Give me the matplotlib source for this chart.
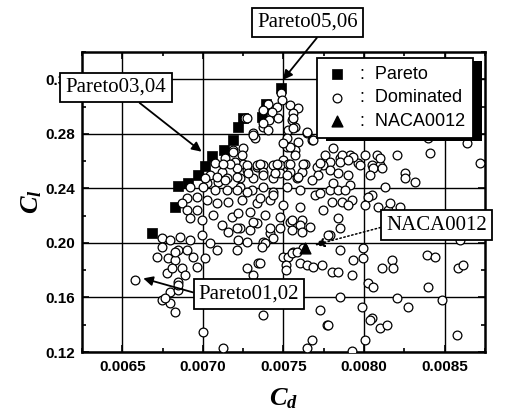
import numpy as np
import matplotlib
matplotlib.use("Agg")
import matplotlib.pyplot as plt
from matplotlib.patches import Rectangle
from matplotlib.transforms import IdentityTransform
from matplotlib.ticker import MultipleLocator

plt.rcParams['mathtext.fontset'] = 'custom'
plt.rcParams['mathtext.it'] = 'Liberation Serif:italic:bold'
plt.rcParams['mathtext.rm'] = 'Liberation Serif:bold'

# ---------------- data ----------------
pareto_cd = [0.006684, 0.006827, 0.006845, 0.006907, 0.006969, 0.007013, 0.007056,
             0.007130, 0.007186, 0.007217, 0.007248, 0.007366, 0.007391, 0.007484]
pareto_cl = [0.2073, 0.2263, 0.2421, 0.2436, 0.2498, 0.2564, 0.2641,
             0.2681, 0.2755, 0.2850, 0.2916, 0.2923, 0.3019, 0.3136]

naca_cd = [0.007633]
naca_cl = [0.1963]

dominated_points = [
    (0.006579, 0.1728), (0.006777, 0.1780),
    (0.007484, 0.3100), (0.007490, 0.3048), (0.007403, 0.3019), (0.007459, 0.2996),
    (0.007428, 0.2960), (0.007540, 0.3011), (0.007589, 0.2989), (0.007558, 0.2953),
    (0.007465, 0.2916), (0.007409, 0.2901), (0.007261, 0.2916), (0.007372, 0.2850),
    (0.007403, 0.2828), (0.007552, 0.2901), (0.007571, 0.2850), (0.007527, 0.2828),
    (0.007310, 0.2806), (0.007323, 0.2769), (0.007521, 0.2769), (0.007589, 0.2740),
    (0.007645, 0.2806), (0.007676, 0.2755), (0.007248, 0.2696), (0.007186, 0.2681),
    (0.007521, 0.2703), (0.007571, 0.2681), (0.007571, 0.2645), (0.007496, 0.2608),
    (0.007757, 0.2645), (0.007788, 0.2593), (0.007744, 0.2571), (0.007633, 0.2579),
    (0.007248, 0.2579), (0.007199, 0.2593), (0.007211, 0.2549), (0.007273, 0.2535),
    (0.007335, 0.2557), (0.007372, 0.2571), (0.007372, 0.2520), (0.007434, 0.2571),
    (0.007478, 0.2571), (0.007527, 0.2579), (0.007540, 0.2520), (0.007478, 0.2513),
    (0.007614, 0.2520), (0.007707, 0.2557), (0.007713, 0.2498), (0.007788, 0.2535),
    (0.007434, 0.2476), (0.007310, 0.2476), (0.007230, 0.2476), (0.007583, 0.2476),
    (0.007676, 0.2461), (0.007075, 0.2586), (0.007137, 0.2623), (0.007118, 0.2520),
    (0.007044, 0.2498), (0.007149, 0.2476), (0.007025, 0.2439), (0.007093, 0.2447),
    (0.007372, 0.2975), (0.007372, 0.2879), (0.007273, 0.2916), (0.007310, 0.2791),
    (0.007186, 0.2667), (0.007242, 0.2645), (0.007168, 0.2579), (0.007335, 0.2571),
    (0.007459, 0.2579), (0.007558, 0.2916), (0.007558, 0.2843), (0.007645, 0.2813),
    (0.007540, 0.2703), (0.007620, 0.2579), (0.007496, 0.2733), (0.007124, 0.2579),
    (0.007273, 0.2571), (0.007354, 0.2579), (0.007540, 0.2579), (0.007013, 0.2476),
    (0.007087, 0.2483), (0.007137, 0.2461), (0.007211, 0.2483), (0.007279, 0.2513),
    (0.007372, 0.2498), (0.007447, 0.2513), (0.007521, 0.2498), (0.007589, 0.2483),
    (0.006920, 0.2410), (0.007000, 0.2410), (0.007075, 0.2388), (0.007149, 0.2388),
    (0.007230, 0.2410), (0.007304, 0.2388), (0.007372, 0.2410), (0.007434, 0.2373),
    (0.007521, 0.2410), (0.007602, 0.2388), (0.006901, 0.2329), (0.006963, 0.2337),
    (0.007025, 0.2315), (0.007087, 0.2293), (0.007155, 0.2300), (0.007242, 0.2315),
    (0.007335, 0.2293), (0.007416, 0.2315), (0.007496, 0.2278), (0.007602, 0.2263),
    (0.006870, 0.2293), (0.006901, 0.2241), (0.006963, 0.2241), (0.006920, 0.2183),
    (0.006994, 0.2168), (0.007062, 0.2205), (0.007118, 0.2131), (0.007180, 0.2190),
    (0.007155, 0.2080), (0.007230, 0.2109), (0.007292, 0.2095), (0.007335, 0.2146),
    (0.007416, 0.2073), (0.007372, 0.2007), (0.007211, 0.1948), (0.007341, 0.1853),
    (0.007273, 0.1816), (0.007540, 0.2153), (0.007614, 0.2168), (0.007496, 0.1897),
    (0.007558, 0.1933), (0.007620, 0.1963), (0.006746, 0.2036), (0.006796, 0.2021),
    (0.006858, 0.2043), (0.006920, 0.2021), (0.006994, 0.2058), (0.007044, 0.1999),
    (0.007087, 0.1948), (0.006715, 0.1897), (0.006783, 0.1889), (0.006845, 0.1948),
    (0.006827, 0.1875), (0.006901, 0.1948), (0.006938, 0.1897), (0.007013, 0.1889),
    (0.006963, 0.1823), (0.006870, 0.1816), (0.006808, 0.1816), (0.006889, 0.1765),
    (0.006845, 0.1713), (0.006746, 0.1581), (0.006796, 0.1559), (0.006827, 0.1493),
    (0.006796, 0.1640), (0.006845, 0.1655), (0.007000, 0.1347), (0.007372, 0.1471),
    (0.006746, 0.1970), (0.006827, 0.1933), (0.006765, 0.1596), (0.006845, 0.1691),
    (0.007124, 0.1229), (0.007211, 0.2388), (0.007273, 0.2373), (0.007354, 0.2329),
    (0.007434, 0.2351), (0.007695, 0.2351), (0.007788, 0.2388), (0.007744, 0.2241),
    (0.007800, 0.2300), (0.007217, 0.2219), (0.007292, 0.2227), (0.007385, 0.2205),
    (0.007478, 0.2190), (0.007552, 0.2168), (0.007602, 0.2131), (0.007664, 0.2117),
    (0.007552, 0.2095), (0.007614, 0.2080), (0.007211, 0.2109), (0.007310, 0.2153),
    (0.007416, 0.2109), (0.007478, 0.2109), (0.007217, 0.2021), (0.007273, 0.2007),
    (0.007385, 0.1999), (0.007434, 0.2036), (0.007366, 0.1970), (0.007527, 0.1897),
    (0.007552, 0.1926), (0.007583, 0.1933), (0.007515, 0.1838), (0.007602, 0.1853),
    (0.007645, 0.1838), (0.007683, 0.1823), (0.007738, 0.1838), (0.007354, 0.1853),
    (0.007310, 0.1765), (0.007515, 0.1801), (0.007800, 0.1787), (0.007788, 0.2058),
    (0.007726, 0.1508), (0.007769, 0.1398), (0.007676, 0.1288), (0.007645, 0.1229),
    (0.007682, 0.2755), (0.007806, 0.2696), (0.007912, 0.2645), (0.008079, 0.2645),
    (0.008203, 0.2645), (0.008408, 0.2659), (0.008637, 0.2733), (0.008395, 0.2769),
    (0.008718, 0.2586), (0.007850, 0.2623), (0.007726, 0.2586), (0.007961, 0.2586),
    (0.008048, 0.2571), (0.008098, 0.2571), (0.008005, 0.2645), (0.008098, 0.2623),
    (0.007862, 0.2645), (0.007930, 0.2630), (0.007850, 0.2593), (0.007899, 0.2608),
    (0.007974, 0.2571), (0.008054, 0.2549), (0.008110, 0.2549), (0.008036, 0.2498),
    (0.008253, 0.2513), (0.008253, 0.2476), (0.008315, 0.2447), (0.007899, 0.2498),
    (0.007837, 0.2513), (0.007912, 0.2425), (0.007837, 0.2388), (0.007881, 0.2388),
    (0.008129, 0.2410), (0.008048, 0.2351), (0.008023, 0.2337), (0.007862, 0.2300),
    (0.007924, 0.2315), (0.007899, 0.2278), (0.008005, 0.2278), (0.008085, 0.2263),
    (0.008147, 0.2241), (0.008160, 0.2293), (0.008222, 0.2263), (0.007992, 0.1963),
    (0.007992, 0.1889), (0.007930, 0.1875), (0.007850, 0.1948), (0.007837, 0.1787),
    (0.007924, 0.1765), (0.008110, 0.1816), (0.008172, 0.1875), (0.008178, 0.1816),
    (0.008389, 0.1911), (0.008439, 0.1897), (0.008581, 0.1816), (0.008612, 0.1838),
    (0.008594, 0.2021), (0.008023, 0.1706), (0.008054, 0.1677), (0.008395, 0.1677),
    (0.007850, 0.1603), (0.007986, 0.1530), (0.008203, 0.1596), (0.008271, 0.1530),
    (0.008482, 0.1581), (0.008048, 0.1449), (0.008098, 0.1376), (0.008141, 0.1398),
    (0.007775, 0.1398), (0.008575, 0.1325), (0.008005, 0.1288), (0.007924, 0.1210),
    (0.008036, 0.1435), (0.007837, 0.2183), (0.007850, 0.2109), (0.007806, 0.2439),
    (0.007726, 0.2366), (0.007775, 0.2058),
]
dom_cd = [p[0] for p in dominated_points]
dom_cl = [p[1] for p in dominated_points]

# annotation targets (data coordinates)
ann_labels = ["Pareto05,06", "Pareto03,04", "Pareto01,02", "NACA0012"]
ann_tip_cd = [0.007496, 0.006992, 0.006630, 0.007695]
ann_tip_cl = [0.3195, 0.2669, 0.1740, 0.1985]

x_ticks = [0.0065, 0.0070, 0.0075, 0.0080, 0.0085]
y_ticks = [0.12, 0.16, 0.20, 0.24, 0.28, 0.32]

# ---------------- figure ----------------
W, H = 512, 416
fig = plt.figure(figsize=(W / 100, H / 100), dpi=100)
ax = fig.add_axes([82 / W, (H - 352) / H, 403 / W, 300 / H])

ax.set_xlim(0.00625, 0.00875)
ax.set_ylim(0.12, 0.34)
ax.set_xticks(x_ticks)
ax.set_yticks(y_ticks)
ax.set_xticklabels([f"{v:.4f}" for v in x_ticks])
ax.set_yticklabels([f"{v:.2f}" for v in y_ticks])
ax.xaxis.set_minor_locator(MultipleLocator(0.00025))
ax.yaxis.set_minor_locator(MultipleLocator(0.02))
ax.grid(True, which='major', color='black', lw=1.0)
ax.set_axisbelow(True)
ax.tick_params(which='both', direction='in', top=True, right=True, color='black')
ax.tick_params(which='major', length=5, width=1.2)
ax.tick_params(which='minor', length=3, width=1.2)
for lab in ax.get_xticklabels() + ax.get_yticklabels():
    lab.set_fontfamily('Liberation Sans')
    lab.set_fontweight('bold')
    lab.set_fontsize(11)
ax.tick_params(axis='x', pad=6)
ax.tick_params(axis='y', pad=5)
for s in ax.spines.values():
    s.set_linewidth(1.8)
    s.set_color('black')

ax.scatter(pareto_cd, pareto_cl, marker='s', s=46, c='black', edgecolors='black',
           linewidths=0.5, zorder=3, label=':  Pareto')
ax.scatter(dom_cd, dom_cl, marker='o', s=40, facecolors='white', edgecolors='black',
           linewidths=0.9, zorder=3.5, label=':  Dominated')
ax.scatter(naca_cd, naca_cl, marker='^', s=60, c='black', zorder=4, label=':  NACA0012')

ax.set_xlabel(r'$C_d$', fontsize=19, labelpad=8)
ax.set_ylabel(r'$C_l$', fontsize=19, labelpad=1)

leg = ax.legend(loc='upper right', bbox_to_anchor=(0.970, 0.98), borderaxespad=0,
                frameon=True, fancybox=False, edgecolor='black', framealpha=1,
                prop={'family': 'Liberation Sans', 'size': 13},
                handletextpad=0.6, labelspacing=0.35, borderpad=0.45,
                handlelength=1.3, markerscale=1.0)
leg.get_frame().set_linewidth(1.3)
leg.set_zorder(20)

# text boxes with arrows (positions in figure pixels)
box_xy = [(307.5, H - 22.5), (116, H - 87.5), (249, H - 294), (436.7, H - 225)]
relpos = [(0.64, 0.0), (0.66, 0.0), (0.0, 0.5), (0.0, 0.45)]
styles = ['-', '-', '-', ':']
for lab, tx, ty, xy, rp, ls in zip(ann_labels, ann_tip_cd, ann_tip_cl, box_xy, relpos, styles):
    ax.annotate(lab, xy=(tx, ty), xycoords='data', xytext=xy, textcoords='figure pixels',
                ha='center', va='center', fontsize=15, family='Liberation Serif',
                bbox=dict(boxstyle='square,pad=0.25', fc='white', ec='black', lw=1.3),
                arrowprops=dict(arrowstyle='-|>', color='black', lw=1.3 if ls == '-' else 1.1,
                                linestyle=ls, mutation_scale=14, relpos=rp,
                                shrinkA=0, shrinkB=0),
                annotation_clip=False, zorder=15)

# legend drop shadow (right/bottom black band)
fig.canvas.draw()
bb = leg.get_window_extent()
shadow = Rectangle((bb.x0 + 9, bb.y0 - 3), bb.width, bb.height, transform=IdentityTransform(),
                   facecolor='black', edgecolor='none', zorder=19, clip_on=False)
ax.add_artist(shadow)

fig.savefig('out.png', dpi=100)
